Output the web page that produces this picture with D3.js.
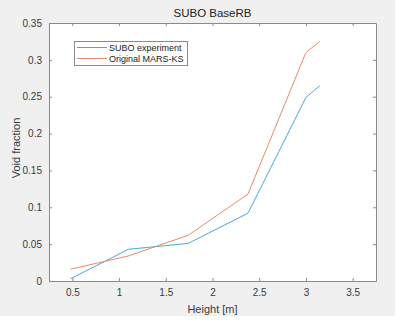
<!DOCTYPE html>
<html><head><meta charset="utf-8">
<script src="https://cdn.jsdelivr.net/npm/d3@7"></script>
<style>body{margin:0;background:#fff}svg{display:block}text{font-family:"Liberation Sans",Arial,sans-serif}</style>
</head><body><svg id="c" width="404" height="323"></svg>
<script>
const heights = [0.48, 1.1, 1.74, 2.38, 3.0, 3.15];
const suboExperiment = [0.003, 0.043, 0.051, 0.092, 0.249, 0.265];
const originalMarsKs = [0.016, 0.034, 0.062, 0.118, 0.310, 0.325];
const seriesNames = ["SUBO experiment", "Original MARS-KS"];
const xTicks = [0.5, 1, 1.5, 2, 2.5, 3, 3.5];
const yTicks = [0, 0.05, 0.1, 0.15, 0.2, 0.25, 0.3, 0.35];

const svg = d3.select("#c");
svg.append("rect").attr("x",0).attr("y",0).attr("width",395).attr("height",316).attr("fill","#f0f0f0");
const L=49,R=376,T=23,B=281;
const x = d3.scaleLinear().domain([0.25,3.75]).range([L,R]);
const y = d3.scaleLinear().domain([0,0.35]).range([B,T]);
svg.append("rect").attr("x",L).attr("y",T).attr("width",R-L).attr("height",B-T).attr("fill","#fff");

const axCol="#8a8a8a", txCol="#3a3a3a";
const gx = svg.append("g").attr("transform",`translate(0,${B})`)
  .call(d3.axisBottom(x).tickValues(xTicks).tickFormat(d3.format("")).tickSizeInner(-3).tickSizeOuter(0).tickPadding(8));
const gxt = svg.append("g").attr("transform",`translate(0,${T})`)
  .call(d3.axisTop(x).tickValues(xTicks).tickFormat("").tickSizeInner(-3).tickSizeOuter(0));
const gy = svg.append("g").attr("transform",`translate(${L},0)`)
  .call(d3.axisLeft(y).tickValues(yTicks).tickFormat(d3.format("")).tickSizeInner(-3).tickSizeOuter(0).tickPadding(7));
const gyr = svg.append("g").attr("transform",`translate(${R},0)`)
  .call(d3.axisRight(y).tickValues(yTicks).tickFormat("").tickSizeInner(-3).tickSizeOuter(0));
[gx,gxt,gy,gyr].forEach(g=>{
  g.selectAll("path,line").attr("stroke",axCol).attr("stroke-width",1);
  g.selectAll("text").attr("fill",txCol).attr("font-size",10).attr("font-family","Liberation Sans, Arial, sans-serif");
});

const colors=["#4fa6d6","#e38d66"];
const line = d3.line().x((d,i)=>x(heights[i])).y(d=>y(d));
[suboExperiment, originalMarsKs].forEach((s,k)=>{
  svg.append("path").datum(s).attr("d",line).attr("fill","none").attr("stroke",colors[k]).attr("stroke-width",1);
});

svg.append("text").attr("x",(L+R)/2).attr("y",17).attr("text-anchor","middle").attr("font-size",11.5).attr("fill","#222").text("SUBO BaseRB");
svg.append("text").attr("x",(L+R)/2).attr("y",313).attr("text-anchor","middle").attr("font-size",11).attr("fill",txCol).text("Height [m]");
svg.append("text").attr("transform","translate(20,148) rotate(-90)").attr("text-anchor","middle").attr("font-size",11).attr("fill",txCol).text("Void fraction");

const lg = svg.append("g");
lg.append("rect").attr("x",74.5).attr("y",41.5).attr("width",113).attr("height",24).attr("fill","#fff").attr("stroke","#8a8a8a");
seriesNames.forEach((n,k)=>{
  const yy = 47.5 + k*11;
  lg.append("line").attr("x1",77).attr("x2",107).attr("y1",yy).attr("y2",yy).attr("stroke",colors[k]).attr("stroke-width",1);
  lg.append("text").attr("x",109).attr("y",yy+3.3).attr("font-size",9).attr("fill","#222").text(n);
});
</script></body></html>
